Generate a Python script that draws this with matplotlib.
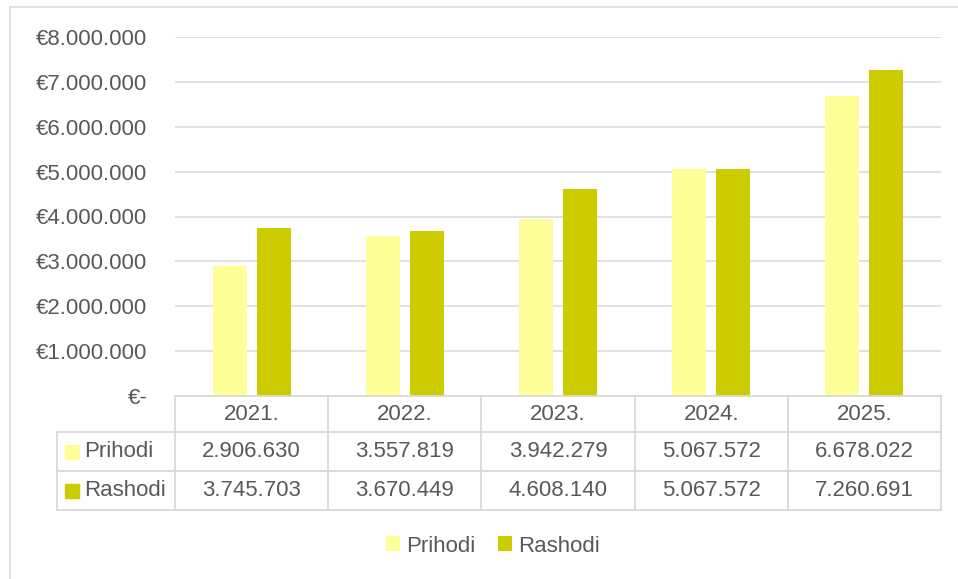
import matplotlib.pyplot as plt
from matplotlib.patches import Rectangle

# podaci
godine = ['2021.', '2022.', '2023.', '2024.', '2025.']
prihodi = [2906630, 3557819, 3942279, 5067572, 6678022]
rashodi = [3745703, 3670449, 4608140, 5067572, 7260691]
serije = ['Prihodi', 'Rashodi']
y_ticks = [0, 1e6, 2e6, 3e6, 4e6, 5e6, 6e6, 7e6, 8e6]

boja_p = '#FFFF99'
boja_r = '#CCCC00'
siva = '#595959'
linija = '#D9D9D9'

plt.rcParams['font.family'] = ['Liberation Sans', 'DejaVu Sans']
fs = 16

W, H = 958, 579
fig = plt.figure(figsize=(W/100, H/100), dpi=100)

# glavni graf (pikseli: lijevo 175, desno 941, gore 37, dolje 396)
L, R, T, B = 175, 941, 37, 396
ax = fig.add_axes([L/W, (H-B)/H, (R-L)/W, (B-T)/H])

def euro(v):
    if v == 0:
        return '€-'
    return '€' + f'{v:,.0f}'.replace(',', '.')

x = list(range(len(godine)))
sirina = 0.222
pomak = 0.144
b1 = ax.bar([i - pomak for i in x], prihodi, sirina, color=boja_p, label=serije[0], zorder=3)
b2 = ax.bar([i + pomak for i in x], rashodi, sirina, color=boja_r, label=serije[1], zorder=3)

ax.set_xlim(-0.5, len(godine) - 0.5)
ax.set_ylim(0, 8e6)
ax.set_yticks(y_ticks)
ax.set_yticklabels([euro(v) for v in y_ticks], fontsize=fs, color=siva)
ax.set_xticks([])
ax.tick_params(axis='y', length=0, pad=20)
for s in ax.spines.values():
    s.set_visible(False)
for v in y_ticks[1:]:
    ax.axhline(v, color=linija, lw=1.1, zorder=1)

# tablica podataka i okvir (pikselne koordinate)
ov = fig.add_axes([0, 0, 1, 1], zorder=5)
ov.set_xlim(0, W)
ov.set_ylim(H, 0)
ov.axis('off')
ov.patch.set_visible(False)

# okvir grafikona
ov.plot([10, 10], [7, H], color=linija, lw=1.1, clip_on=False)
ov.plot([10, W], [7, 7], color=linija, lw=1.1, clip_on=False)

n = len(godine)
stup = (R - L) / n
r0, r1, r2, r3 = 396, 432, 471, 510
lijevo = 57
lw_t = 1.3
# vodoravne linije
ov.plot([L, R], [r0, r0], color=linija, lw=lw_t)
for yy in (r1, r2, r3):
    ov.plot([lijevo, R], [yy, yy], color=linija, lw=lw_t)
# okomite linije
ov.plot([lijevo, lijevo], [r1, r3], color=linija, lw=lw_t)
for k in range(n + 1):
    xx = L + k * stup
    ov.plot([xx, xx], [r0, r3], color=linija, lw=lw_t)

# zaglavlje
for k, g in enumerate(godine):
    ov.text(L + (k + 0.5) * stup, (r0 + r1) / 2, g, ha='center', va='center',
            fontsize=fs, color=siva)

# redovi
redovi = [(serije[0], prihodi, boja_p, (r1 + r2) / 2),
          (serije[1], rashodi, boja_r, (r2 + r3) / 2)]
for ime, vrijednosti, boja, yc in redovi:
    ov.add_patch(Rectangle((65, yc - 7), 14, 14, color=boja))
    ov.text(84, yc, ime, ha='left', va='center', fontsize=fs, color=siva)
    for k, v in enumerate(vrijednosti):
        ov.text(L + (k + 0.5) * stup, yc, f'{v:,.0f}'.replace(',', '.'),
                ha='center', va='center', fontsize=fs, color=siva)

# legenda
fig.legend(handles=[b1, b2], labels=serije, loc='center', ncol=2,
           bbox_to_anchor=(493/W, (H-546)/H), frameon=False, fontsize=fs,
           labelcolor=siva, handlelength=0.63, handleheight=0.63,
           handletextpad=0.3, columnspacing=1.0)

fig.savefig('out.png', dpi=100)
